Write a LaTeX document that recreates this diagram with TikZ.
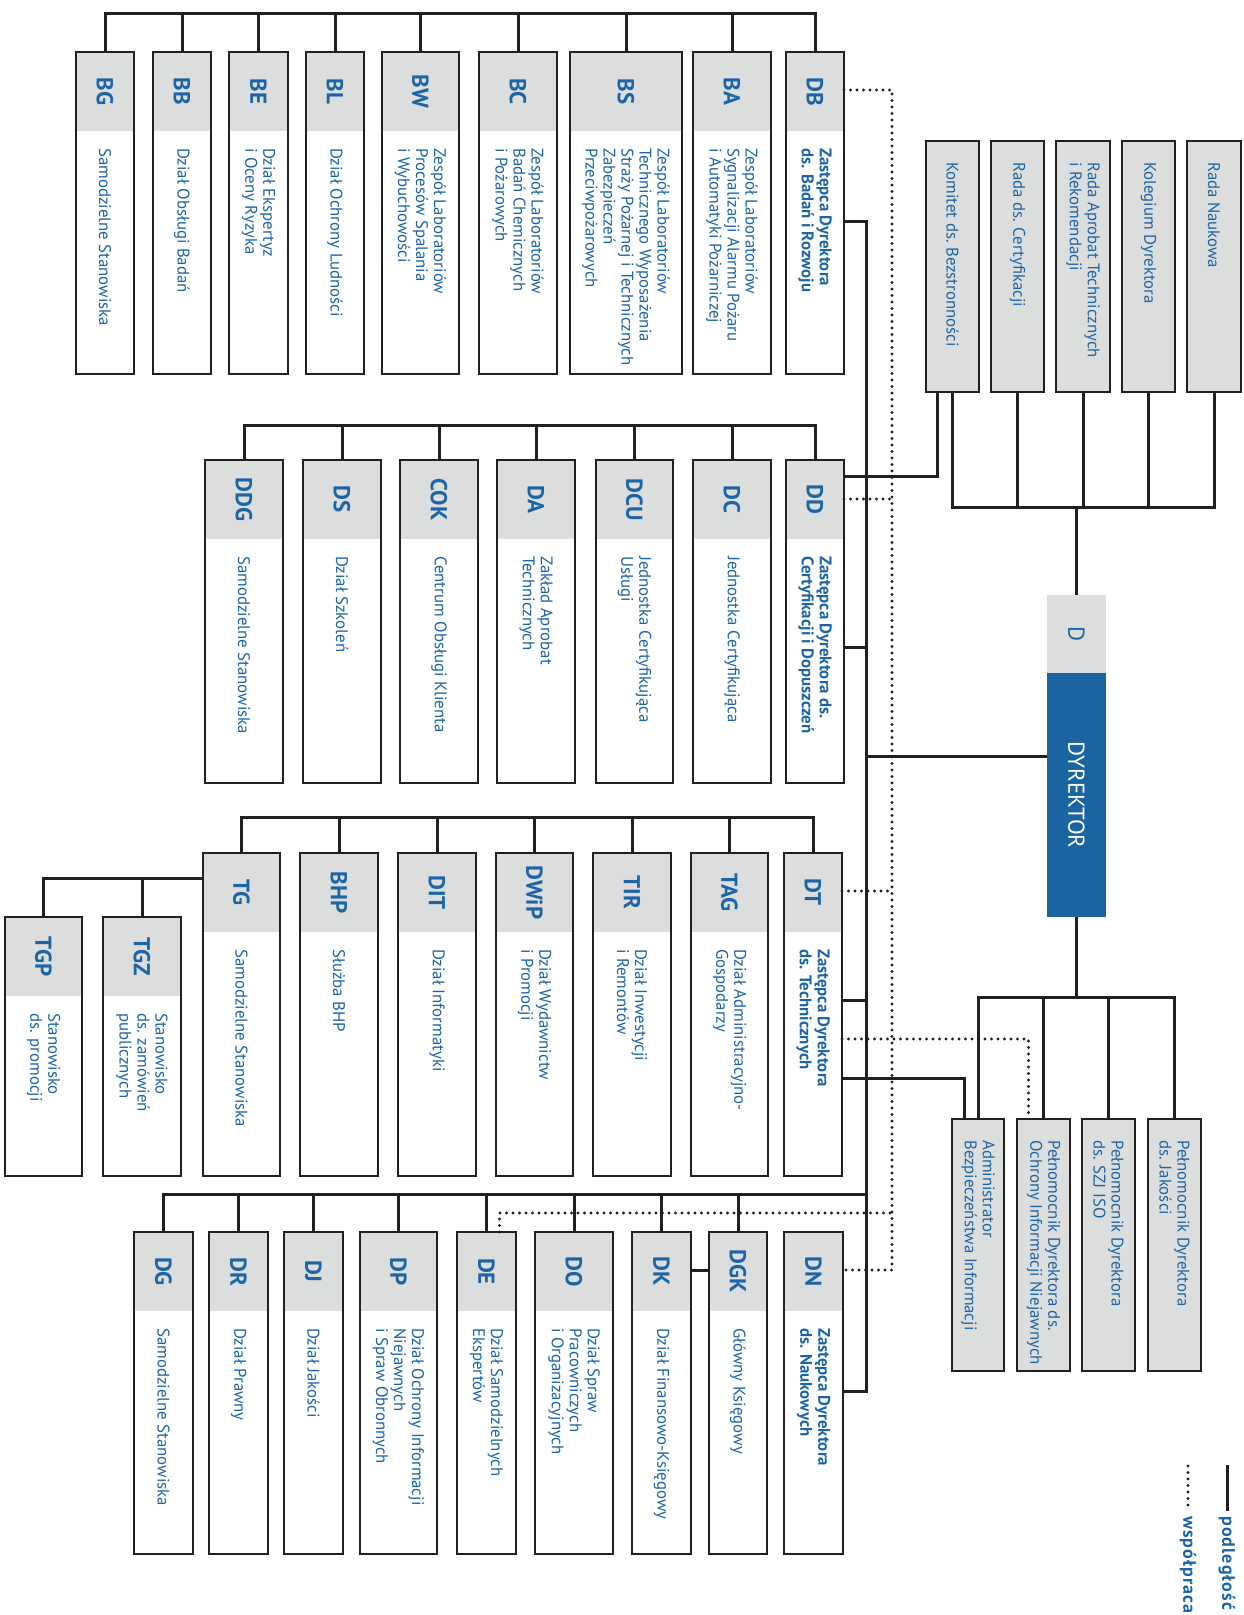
\documentclass[tikz,border=0pt]{standalone}
\usepackage{fontspec}
\setmainfont{PT Sans}
\definecolor{unitblue}{HTML}{1C64A8}
\definecolor{headgray}{HTML}{DCDDDD}
\definecolor{dirblue}{HTML}{1B64A2}
\definecolor{linegray}{HTML}{231F20}
\newcommand{\orgunit}[8][unittext]{%
\node[unitbox, minimum width=#4pt-#3pt, minimum height=#6pt-#5pt] (#2) at ({(#3+#4)/2},{(#5+#6)/2}) {};
\fill[headgray] ([shift={(0.9pt,-0.9pt)}]#2.north west) rectangle ([shift={(-0.9pt,-79pt)}]#2.north east);
\node[codetext] (#2-code) at ([yshift=-39.5pt]#2.north) {#7};
\node[#1] (#2-text) at ([yshift=-96pt]#2.north) {#8};
}
\begin{document}
\begin{tikzpicture}[x=1pt, y=-1pt,
			unitbox/.style={rectangle, draw=linegray, fill=white, line width=1.8pt, outer sep=0pt, inner sep=0pt},
			councilbox/.style={unitbox, fill=headgray},
			codetext/.style={rotate=-90, inner sep=0pt, text=unitblue, font=\fontsize{23}{25}\selectfont\bfseries},
			unittext/.style={rotate=-90, anchor=west, align=left, inner sep=0pt, text=unitblue, font=\fontsize{16.8}{18}\selectfont},
			headtext/.style={unittext, font=\fontsize{16.8}{18}\selectfont\bfseries},
			legendtext/.style={unittext, font=\fontsize{18}{20}\selectfont\bfseries\addfontfeatures{LetterSpace=6}},
			conn/.style={draw=linegray, line width=3pt},
			coop/.style={draw=linegray, line width=3.2pt, line cap=round, dash pattern=on 0pt off 6.5pt},
			]
\useasboundingbox (0,0) rectangle (1244,1615);

\orgunit{BG}{76}{134}{52}{374}{BG}{Samodzielne Stanowiska}
\orgunit{BB}{153}{211}{52}{374}{BB}{Dział Obsługi Badań}
\orgunit{BE}{229}{288}{52}{374}{BE}{Dział Ekspertyz\\i Oceny Ryzyka}
\orgunit{BL}{306}{364}{52}{374}{BL}{Dział Ochrony Ludności}
\orgunit{BW}{382}{459}{52}{374}{BW}{Zespół Laboratoriów\\Procesów Spalania\\i Wybuchowości}
\orgunit{BC}{479}{557}{52}{374}{BC}{Zespół Laboratoriów\\Badań Chemicznych\\i Pożarowych}
\orgunit{BS}{570}{682}{52}{374}{BS}{Zespół Laboratoriów\\Technicznego Wyposażenia\\Straży Pożarnej i Technicznych\\Zabezpieczeń\\Przeciwpożarowych}
\orgunit{BA}{693}{771}{52}{374}{BA}{Zespół Laboratoriów\\Sygnalizacji Alarmu Pożaru\\i Automatyki Pożarniczej}
\orgunit[headtext]{DB}{786}{844}{52}{374}{DB}{Zastępca Dyrektora\\ds. Badań i Rozwoju}

\orgunit{DDG}{205}{283}{460}{783}{DDG}{Samodzielne Stanowiska}
\orgunit{DS}{303}{381}{460}{783}{DS}{Dział Szkoleń}
\orgunit{COK}{400}{478}{460}{783}{COK}{Centrum Obsługi Klienta}
\orgunit{DA}{497}{575}{460}{783}{DA}{Zakład Aprobat\\Technicznych}
\orgunit{DCU}{596}{673}{460}{783}{DCU}{Jednostka Certyfikująca\\Usługi}
\orgunit{DC}{693}{771}{460}{783}{DC}{Jednostka Certyfikująca}
\orgunit[headtext]{DD}{786}{844}{460}{783}{DD}{Zastępca Dyrektora ds.\\Certyfikacji i Dopuszczeń}

\orgunit{TGP}{5}{82}{917}{1176}{TGP}{Stanowisko\\ds. promocji}
\orgunit{TGZ}{103}{181}{917}{1176}{TGZ}{Stanowisko\\ds. zamówień\\publicznych}
\orgunit{TG}{203}{280}{853}{1176}{TG}{Samodzielne Stanowiska}
\orgunit{BHP}{300}{378}{853}{1176}{BHP}{Służba BHP}
\orgunit{DIT}{398}{476}{853}{1176}{DIT}{Dział Informatyki}
\orgunit{DWiP}{496}{573}{853}{1176}{DWiP}{Dział Wydawnictw\\i Promocji}
\orgunit{TIR}{593}{671}{853}{1176}{TIR}{Dział Inwestycji\\i Remontów}
\orgunit{TAG}{691}{768}{853}{1176}{TAG}{Dział Administracyjno-\\Gospodarzy}
\orgunit[headtext]{DT}{784}{842}{853}{1176}{DT}{Zastępca Dyrektora\\ds. Technicznych}

\orgunit{DG}{134}{193}{1232}{1554}{DG}{Samodzielne Stanowiska}
\orgunit{DR}{209}{268}{1232}{1554}{DR}{Dział Prawny}
\orgunit{DJ}{284}{343}{1232}{1554}{DJ}{Dział Jakości}
\orgunit{DP}{360}{437}{1232}{1554}{DP}{Dział Ochrony Informacji\\Niejawnych\\i Spraw Obronnych}
\orgunit{DE}{457}{516}{1232}{1554}{DE}{Dział Samodzielnych\\Ekspertów}
\orgunit{DO}{535}{613}{1232}{1554}{DO}{Dział Spraw\\Pracowniczych\\i Organizacyjnych}
\orgunit{DK}{632}{691}{1232}{1554}{DK}{Dział Finansowo-Księgowy}
\orgunit{DGK}{709}{767}{1232}{1554}{DGK}{Główny Księgowy}
\orgunit[headtext]{DN}{784}{843}{1232}{1554}{DN}{Zastępca Dyrektora\\ds. Naukowych}

\node[councilbox, minimum width=53pt, minimum height=251pt] (KB) at (952.5,266.5) {};
\node[unittext] (KB-text) at ([yshift=-21pt]KB.north) {Komitet ds.~Bezstronności};
\node[councilbox, minimum width=53pt, minimum height=251pt] (RC) at (1017.5,266.5) {};
\node[unittext] (RC-text) at ([yshift=-21pt]RC.north) {Rada ds. Certyfikacji};
\node[councilbox, minimum width=54pt, minimum height=251pt] (RA) at (1083,266.5) {};
\node[unittext] (RA-text) at ([yshift=-21pt]RA.north) {Rada Aprobat Technicznych\\i Rekomendacji};
\node[councilbox, minimum width=53pt, minimum height=251pt] (KD) at (1148.5,266.5) {};
\node[unittext] (KD-text) at ([yshift=-21pt]KD.north) {Kolegium Dyrektora};
\node[councilbox, minimum width=54pt, minimum height=251pt] (RN) at (1214,266.5) {};
\node[unittext] (RN-text) at ([yshift=-21pt]RN.north) {Rada Naukowa};

\node[rectangle, fill=dirblue, outer sep=0pt, minimum width=59pt, minimum height=322pt] (D) at (1076.5,756) {};
\fill[headgray] (D.north west) rectangle ([yshift=-78pt]D.north east);
\node[codetext, font=\fontsize{23}{25}\selectfont] (D-code) at ([yshift=-39pt]D.north) {D};
\node[rotate=-90, inner sep=0pt, text=white, font=\fontsize{23}{25}\selectfont] (D-text) at ([yshift=-39pt]D.center) {DYREKTOR};

\node[councilbox, minimum width=52pt, minimum height=252pt] (ABI) at (978,1245) {};
\node[unittext] (ABI-text) at ([yshift=-21pt]ABI.north) {Administrator\\Bezpieczeństwa Informacji};
\node[councilbox, minimum width=53pt, minimum height=252pt] (ONI) at (1043.5,1245) {};
\node[unittext] (ONI-text) at ([yshift=-21pt]ONI.north) {Pełnomocnik Dyrektora ds.\\Ochrony Informacji Niejawnych};
\node[councilbox, minimum width=53pt, minimum height=252pt] (SZJ) at (1108.5,1245) {};
\node[unittext] (SZJ-text) at ([yshift=-21pt]SZJ.north) {Pełnomocnik Dyrektora\\ds. SZJ ISO};
\node[councilbox, minimum width=53pt, minimum height=252pt] (PJ) at (1174.5,1245) {};
\node[unittext] (PJ-text) at ([yshift=-21pt]PJ.north) {Pełnomocnik Dyrektora\\ds. Jakości};

\coordinate (spine) at (866,0);
\coordinate (dspine) at (892,0);

\draw[conn] (BG.north) -- (BG.north |- 0,13) -| (DB.north);
\draw[conn] (BB.north) -- (BB.north |- 0,13);
\draw[conn] (BE.north) -- (BE.north |- 0,13);
\draw[conn] (BL.north) -- (BL.north |- 0,13);
\draw[conn] (BW.north) -- (BW.north |- 0,13);
\draw[conn] (BC.north) -- (BC.north |- 0,13);
\draw[conn] (BS.north) -- (BS.north |- 0,13);
\draw[conn] (BA.north) -- (BA.north |- 0,13);

\draw[conn] (DDG.north) -- (DDG.north |- 0,425) -| (DD.north);
\draw[conn] (DS.north) -- (DS.north |- 0,425);
\draw[conn] (COK.north) -- (COK.north |- 0,425);
\draw[conn] (DA.north) -- (DA.north |- 0,425);
\draw[conn] (DCU.north) -- (DCU.north |- 0,425);
\draw[conn] (DC.north) -- (DC.north |- 0,425);

\draw[conn] (TG.north) -- (TG.north |- 0,817) -| (DT.north);
\draw[conn] (BHP.north) -- (BHP.north |- 0,817);
\draw[conn] (DIT.north) -- (DIT.north |- 0,817);
\draw[conn] (DWiP.north) -- (DWiP.north |- 0,817);
\draw[conn] (TIR.north) -- (TIR.north |- 0,817);
\draw[conn] (TAG.north) -- (TAG.north |- 0,817);
\draw[conn] (TG.west |- 0,878) -| (TGP.north);
\draw[conn] (TGZ.north) -- (TGZ.north |- 0,878);

\draw[conn] (DG.north) |- (spine |- 0,1194);
\draw[conn] (DR.north) -- (DR.north |- 0,1194);
\draw[conn] (DJ.north) -- (DJ.north |- 0,1194);
\draw[conn] (DP.north) -- (DP.north |- 0,1194);
\draw[conn] (DE.north) -- (DE.north |- 0,1194);
\draw[conn] (DO.north) -- (DO.north |- 0,1194);
\draw[conn] (DK.north) -- (DK.north |- 0,1194);
\draw[conn] (DGK.north) -- (DGK.north |- 0,1194);
\draw[conn] (DK.east |- 0,1270) -- (DGK.west |- 0,1270);

\draw[conn] (DB.east |- 0,221) -| (spine |- 0,1391) -- (DN.east |- 0,1391);
\draw[conn] (DD.east |- 0,647) -- (spine |- 0,647);
\draw[conn] (DT.east |- 0,1000) -- (spine |- 0,1000);
\draw[conn] (D.west) -- (spine |- D.west);
\draw[conn] (DD.east |- 0,476) -| ([xshift=-15pt]KB.south);
\draw[conn] (DT.east |- 0,1078) -| ([xshift=-14pt]ABI.north);

\draw[conn] (KB.south) -- (KB.south |- 0,507) -| (RN.south);
\draw[conn] (RC.south) -- (RC.south |- 0,507);
\draw[conn] (RA.south) -- (RA.south |- 0,507);
\draw[conn] (KD.south) -- (KD.south |- 0,507);
\draw[conn] (D.north) -- (D.north |- 0,507);

\draw[conn] (D.south) -- (D.south |- 0,997);
\draw[conn] (ABI.north) -- (ABI.north |- 0,997) -| (PJ.north);
\draw[conn] (ONI.north) -- (ONI.north |- 0,997);
\draw[conn] (SZJ.north) -- (SZJ.north |- 0,997);

\draw[coop] (DB.east |- 0,90) -| (dspine |- 0,1270) -- (DN.east |- 0,1270);
\draw[coop] (DD.east |- 0,499) -- (dspine |- 0,499);
\draw[coop] (DT.east |- 0,891) -- (dspine |- 0,891);
\draw[coop] ([xshift=13pt]DE.north) |- (dspine |- 0,1213);
\draw[coop] (DT.east |- 0,1039) -| ([xshift=-15pt]ONI.north);

\coordinate (legsub) at (1227,1465);
\node[legendtext] (legsub-text) at (1227,1516) {podległość};
\draw[conn] (legsub) -- ([yshift=5pt]legsub-text.west);
\coordinate (legcoop) at (1188,1466);
\node[legendtext] (legcoop-text) at (1188,1516) {współpraca};
\draw[coop] (legcoop) -- ([yshift=10pt]legcoop-text.west);
\end{tikzpicture}
\end{document}
